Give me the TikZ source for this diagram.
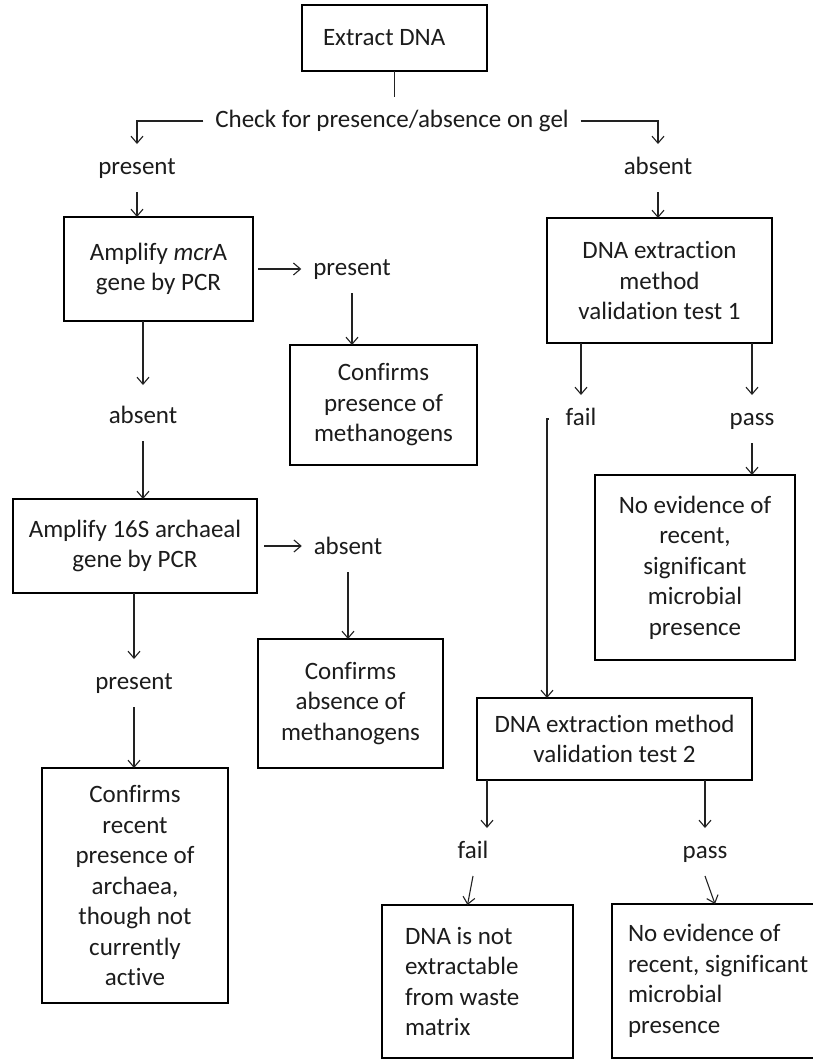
\documentclass[tikz,border=0pt]{standalone}
\usepackage{fontspec}
\setmainfont{Carlito}[Ligatures=NoCommon]
\usetikzlibrary{arrows.meta,calc}
\definecolor{txt}{HTML}{1C1C1C}
\definecolor{ln}{HTML}{222222}
\begin{document}
\begin{tikzpicture}[x=1pt,y=-1pt,
  box/.style={draw=black, line width=2.2pt, inner sep=0pt, outer sep=0pt, align=center, text=txt, font=\fontsize{25}{30.5}\selectfont},
  lbl/.style={inner xsep=12pt, inner ysep=12pt, outer sep=0pt, text height=18pt, text depth=6pt, text=txt, font=\fontsize{25}{30.5}\selectfont},
  conn/.style={draw=ln, line width=1.1pt},
  arr/.style={conn, -{Straight Barb[length=7pt,width=12pt]}}]
\useasboundingbox (0,0) rectangle (813,1061);
\fill[white] (0,0) rectangle (813,1061);
\clip (0,0) rectangle (813,1061);

% boxes
\node[box, minimum width=185pt, minimum height=66pt, text width=143pt, align=flush left] (extract) at (394.5,38) {Extract DNA};
\node[box, minimum width=189pt, minimum height=104pt] (mcrA) at (158.5,269) {Amplify \textit{mcr}A\\gene by PCR};
\node[box, minimum width=187pt, minimum height=120pt] (confpres) at (383.5,405) {Confirms\\presence of\\methanogens};
\node[box, minimum width=244pt, minimum height=94pt] (s16) at (135,546) {Amplify 16S archaeal\\gene by PCR};
\node[box, minimum width=185pt, minimum height=129pt] (confabs) at (350.5,703.5) {Confirms\\absence of\\methanogens};
\node[box, minimum width=186pt, minimum height=235pt] (confrecent) at (135,885.5) {Confirms\\recent\\presence of\\archaea,\\though not\\currently\\active};
\node[box, minimum width=225pt, minimum height=125pt] (test1) at (659.5,280.5) {DNA extraction\\method\\validation test 1};
\node[box, minimum width=200pt, minimum height=185pt] (noev1) at (695,567.5) {No evidence of\\recent,\\significant\\microbial\\presence};
\node[box, minimum width=275pt, minimum height=82pt] (test2) at (614.5,739) {DNA extraction method\\validation test 2};
\node[box, minimum width=191pt, minimum height=153pt, text width=145pt, align=flush left] (notext) at (477.5,981.5) {DNA is not\\extractable\\from waste\\matrix};
\node[box, minimum width=220pt, minimum height=154pt, text width=188pt, align=flush left] (noev2) at (722,981) {No evidence of\\recent, significant\\microbial\\presence};

% labels
\node[lbl] (check) at (392,121) {Check for presence/absence on gel};
\node[lbl] (present1) at (137,168) {present};
\node[lbl] (absent1) at (658,168) {absent};
\node[lbl] (present2) at (352,269) {present};
\node[lbl] (absent2) at (143,417) {absent};
\node[lbl] (absent3) at (348,548) {absent};
\node[lbl] (present3) at (134,683) {present};
\node[lbl] (fail1) at (581,419) {fail};
\node[lbl] (pass1) at (752,419) {pass};
\node[lbl] (fail2) at (473,852) {fail};
\node[lbl] (pass2) at (705,852) {pass};

% connectors
\draw[conn] (extract.south) -- (extract.south |- check.north);
\draw[arr] (check.west) -| (present1.north);
\draw[arr] (check.east) -| (absent1.north);
\draw[arr] (present1.south) -- (present1.south |- mcrA.north);
\draw[arr] (absent1.south) -- (absent1.south |- test1.north);
\draw[arr, shorten <=5pt] (mcrA.east) -- (mcrA.east -| present2.west);
\draw[arr] (present2.south) -- (present2.south |- confpres.north);
\draw[arr, shorten >=8pt] (absent2.north |- mcrA.south) -- (absent2.north);
\draw[arr] (absent2.south) -- (absent2.south |- s16.north);
\draw[arr, shorten <=7pt] (s16.east) -- (s16.east -| absent3.west);
\draw[arr] (absent3.south) -- (absent3.south |- confabs.north);
\draw[arr] (present3.north |- s16.south) -- (present3.north);
\draw[arr] (present3.south) -- (present3.south |- confrecent.north);
\draw[arr] (fail1.north |- test1.south) -- (fail1.north);
\draw[arr] (pass1.north |- test1.south) -- (pass1.north);
\draw[arr] (pass1.south) -- (pass1.south |- noev1.north);
\draw[arr, shorten <=5pt] (fail1.west) -| ([xshift=70pt]test2.north west);
\draw[arr] ([xshift=10pt]test2.south west) -- ([xshift=10pt]test2.south west |- fail2.north);
\draw[arr] (pass2.north |- test2.south) -- (pass2.north);
\draw[arr] (fail2.south) -- ([xshift=-10pt]notext.north);
\draw[arr] (pass2.south) -- ([xshift=-7pt]noev2.north);
\end{tikzpicture}
\end{document}
